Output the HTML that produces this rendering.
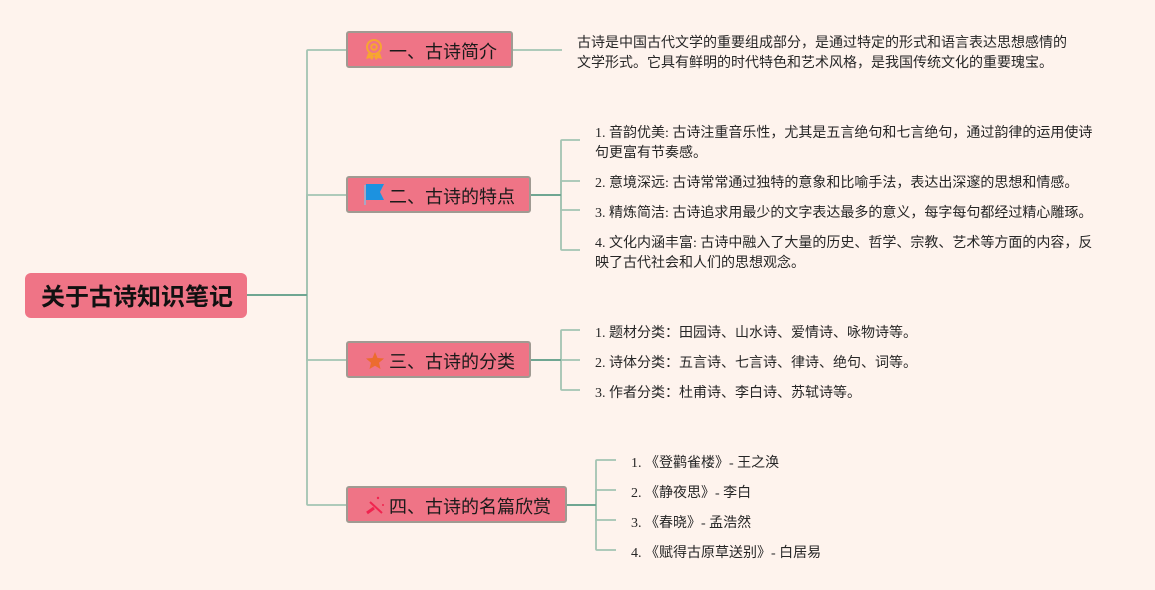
<!DOCTYPE html>
<html><head><meta charset="utf-8">
<style>
html,body{margin:0;padding:0;width:1155px;height:590px;overflow:hidden;background:#fef3ed}
body{position:relative;font-family:"Liberation Serif","WenQuanYi Zen Hei","Noto Sans CJK SC",serif;color:#222}
svg{position:absolute;left:0;top:0}
.b{position:absolute;box-sizing:border-box;height:37px;background:#ef7486;border:2px solid #a09a92;border-radius:3px;font-size:18px;line-height:39px;color:#1a1a1a;white-space:nowrap}
.b span{position:absolute;left:41px;top:0}
.t{position:absolute;font-size:14px;line-height:20px;white-space:nowrap;color:#262626}
#r{position:absolute;left:25px;top:273px;width:222px;height:45px;background:#ef7486;border-radius:6px;font-size:24px;font-weight:bold;line-height:51px;color:#111;white-space:nowrap}
#r span{position:absolute;left:16px;top:0}
</style></head><body>
<svg width="1155" height="590" fill="none">
<g stroke="#a3c4b2" stroke-width="1.800">
<path d="M307 295V51Q307 50 308 50H347"/>
<path d="M307 295V195H347"/>
<path d="M307 295V360H347"/>
<path d="M307 295V504Q307 505 308 505H347"/>
<path d="M512 50H562"/>
<path d="M561 195V141Q561 140 562 140H580"/>
<path d="M561 195V181H580"/>
<path d="M561 195V210H580"/>
<path d="M561 195V249Q561 250 562 250H580"/>
<path d="M561 360V331Q561 330 562 330H580"/>
<path d="M561 360H580"/>
<path d="M561 360V389Q561 390 562 390H580"/>
<path d="M596 505V461Q596 460 597 460H616"/>
<path d="M596 505V490H616"/>
<path d="M596 505V520H616"/>
<path d="M596 505V549Q596 550 597 550H616"/>
</g>
<g stroke="#6fa692" stroke-width="2">
<path d="M247 295H307"/>
<path d="M530 195H561"/>
<path d="M530 360H561"/>
<path d="M566 505H596"/>
</g>
</svg>
<div id="r"><span>关于古诗知识笔记</span></div>
<div class="b" style="left:346px;top:31px;width:167px"><span>一、古诗简介</span></div>
<div class="b" style="left:346px;top:176px;width:185px"><span>二、古诗的特点</span></div>
<div class="b" style="left:346px;top:341px;width:185px"><span>三、古诗的分类</span></div>
<div class="b" style="left:346px;top:486px;width:221px"><span>四、古诗的名篇欣赏</span></div>
<svg width="1155" height="590" fill="none">
<g stroke="#f7a531" stroke-width="2"><circle cx="374" cy="47" r="7"/><circle cx="374" cy="47" r="2.800"/></g>
<path d="M368 53L366 59L370 58L372 60L375 55ZM380 53L382 59L378 58L376 60L373 55Z" fill="#f7a531"/>
<path d="M365 185V205" stroke="#8fb8d8" stroke-width="1.500"/>
<path d="M366 184H384L380 192L384 200H366Z" fill="#1c92e0"/>
<path d="M375 352L377.500 358L384 358.500L379 362.800L380.500 369L375 365.800L369.500 369L371 362.800L366 358.500L372.500 358Z" fill="#ec6c2e"/>
<path d="M370 502L382 513" stroke="#f0244f" stroke-width="2"/>
<path d="M367 513L374 508" stroke="#f0244f" stroke-width="3"/>
<circle cx="378" cy="498" r="1.200" fill="#f0244f"/><circle cx="383" cy="505" r="1" fill="#f0244f"/>
</svg>
<div class="t" style="left:577px;top:34px">古诗是中国古代文学的重要组成部分，是通过特定的形式和语言表达思想感情的<br>文学形式。它具有鲜明的时代特色和艺术风格，是我国传统文化的重要瑰宝。</div>
<div class="t" style="left:595px;top:124px">1. 音韵优美: 古诗注重音乐性，尤其是五言绝句和七言绝句，通过韵律的运用使诗<br>句更富有节奏感。</div>
<div class="t" style="left:595px;top:174px">2. 意境深远: 古诗常常通过独特的意象和比喻手法，表达出深邃的思想和情感。</div>
<div class="t" style="left:595px;top:204px">3. 精炼简洁: 古诗追求用最少的文字表达最多的意义，每字每句都经过精心雕琢。</div>
<div class="t" style="left:595px;top:234px">4. 文化内涵丰富: 古诗中融入了大量的历史、哲学、宗教、艺术等方面的内容，反<br>映了古代社会和人们的思想观念。</div>
<div class="t" style="left:595px;top:324px">1. 题材分类：田园诗、山水诗、爱情诗、咏物诗等。</div>
<div class="t" style="left:595px;top:354px">2. 诗体分类：五言诗、七言诗、律诗、绝句、词等。</div>
<div class="t" style="left:595px;top:384px">3. 作者分类：杜甫诗、李白诗、苏轼诗等。</div>
<div class="t" style="left:631px;top:454px">1. 《登鹳雀楼》- 王之涣</div>
<div class="t" style="left:631px;top:484px">2. 《静夜思》- 李白</div>
<div class="t" style="left:631px;top:514px">3. 《春晓》- 孟浩然</div>
<div class="t" style="left:631px;top:544px">4. 《赋得古原草送别》- 白居易</div>
</body></html>
